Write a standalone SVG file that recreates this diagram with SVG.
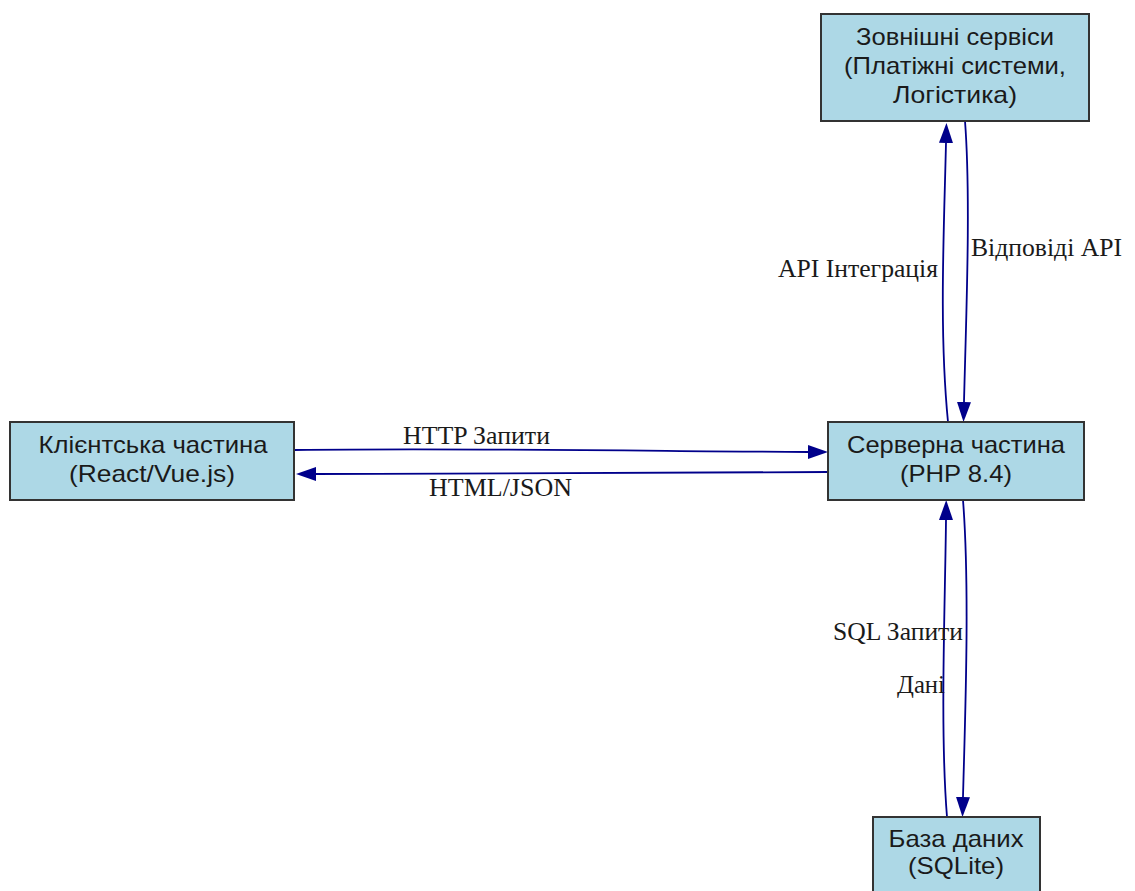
<svg xmlns="http://www.w3.org/2000/svg" width="1135" height="891" viewBox="0 0 1135 891">
  <style>
    .node rect { fill: #add8e6; stroke: #333333; stroke-width: 2; }
    .node text { font-family: "Liberation Sans", Arial, sans-serif; font-size: 24px; fill: #1a1a1a; text-anchor: middle; }
    .edge { fill: none; stroke: #00008b; stroke-width: 1.8; }
    .elabel { font-family: "Liberation Serif", "Times New Roman", serif; font-size: 25px; fill: #1a1a1a; }
  </style>
  <defs>
    <marker id="arrow" viewBox="0 0 20 14" markerWidth="20" markerHeight="14" markerUnits="userSpaceOnUse" refX="0" refY="7" orient="auto">
      <path d="M0,0 L20,7 L0,14 z" fill="#00008b"/>
    </marker>
  </defs>
  <rect width="1135" height="891" fill="#ffffff"/>

  <!-- connectors -->
  <g id="connectors">
    <path class="edge" marker-end="url(#arrow)" d="M294,450 C480,448 640,451 808,452"/>
    <path class="edge" marker-end="url(#arrow)" d="M828,472 C640,472 480,474 316,474"/>
    <path class="edge" marker-end="url(#arrow)" d="M948,422 C939,330 944,230 946,143"/>
    <path class="edge" marker-end="url(#arrow)" d="M965,121 C971,200 966,320 964,402"/>
    <path class="edge" marker-end="url(#arrow)" d="M963,500 C970,590 965,720 963,797"/>
    <path class="edge" marker-end="url(#arrow)" d="M947,817 C940,730 945,610 946,520"/>

    <text class="elabel" x="403" y="444" textLength="147" lengthAdjust="spacingAndGlyphs">HTTP Запити</text>
    <text class="elabel" x="429" y="496" textLength="143" lengthAdjust="spacingAndGlyphs">HTML/JSON</text>
    <text class="elabel" x="778" y="277" textLength="160" lengthAdjust="spacingAndGlyphs">API Інтеграція</text>
    <text class="elabel" x="971" y="256" textLength="151" lengthAdjust="spacingAndGlyphs">Відповіді API</text>
    <text class="elabel" x="833" y="640" textLength="130" lengthAdjust="spacingAndGlyphs">SQL Запити</text>
    <text class="elabel" x="897" y="693" textLength="48" lengthAdjust="spacingAndGlyphs">Дані</text>
  </g>

  <!-- nodes -->
  <g id="external" class="node">
    <rect x="821" y="14" width="268" height="107"/>
    <text x="955" y="45" textLength="198" lengthAdjust="spacingAndGlyphs">Зовнішні сервіси</text>
    <text x="955" y="74" textLength="222" lengthAdjust="spacingAndGlyphs">(Платіжні системи,</text>
    <text x="955" y="103" textLength="124" lengthAdjust="spacingAndGlyphs">Логістика)</text>
  </g>

  <g id="client" class="node">
    <rect x="10" y="422" width="284" height="78"/>
    <text x="153" y="453" textLength="229" lengthAdjust="spacingAndGlyphs">Клієнтська частина</text>
    <text x="152" y="482" textLength="166" lengthAdjust="spacingAndGlyphs">(React/Vue.js)</text>
  </g>

  <g id="server" class="node">
    <rect x="828" y="422" width="256" height="78"/>
    <text x="956" y="453" textLength="218" lengthAdjust="spacingAndGlyphs">Серверна частина</text>
    <text x="956" y="482" textLength="112" lengthAdjust="spacingAndGlyphs">(PHP 8.4)</text>
  </g>

  <g id="database" class="node">
    <rect x="873" y="817" width="167" height="90"/>
    <text x="956" y="847" textLength="135" lengthAdjust="spacingAndGlyphs">База даних</text>
    <text x="956" y="874" textLength="96" lengthAdjust="spacingAndGlyphs">(SQLite)</text>
  </g>
</svg>
